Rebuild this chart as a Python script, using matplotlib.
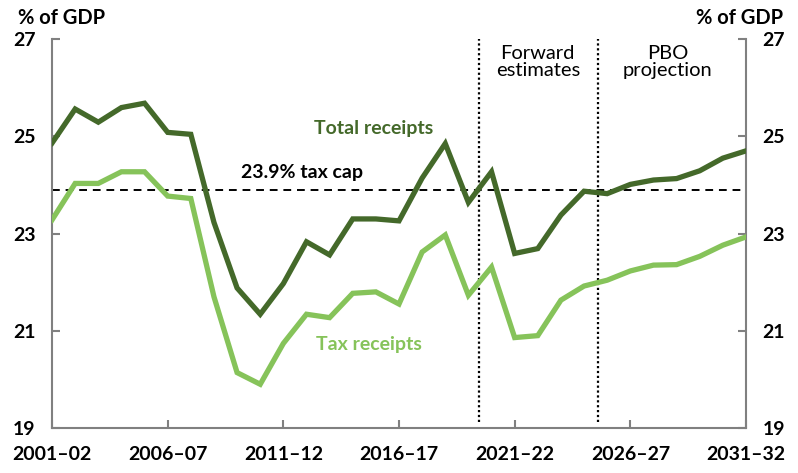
import numpy as np
import matplotlib.pyplot as plt

plt.rcParams['font.family'] = ['Lato', 'DejaVu Sans']

# data, % of GDP, 2001-02 .. 2031-32
years = [f"{y}\u2013{str(y + 1)[-2:]}" for y in range(2001, 2032)]
total = [24.86, 25.56, 25.29, 25.59, 25.68, 25.08, 25.04, 23.23, 21.88, 21.34,
         21.97, 22.83, 22.56, 23.30, 23.30, 23.26, 24.14, 24.85, 23.64, 24.27,
         22.59, 22.69, 23.38, 23.87, 23.82, 24.01, 24.10, 24.13, 24.29, 24.55,
         24.70]
tax = [23.28, 24.03, 24.03, 24.27, 24.27, 23.77, 23.72, 21.70, 20.14, 19.90,
       20.74, 21.34, 21.27, 21.77, 21.80, 21.55, 22.62, 22.97, 21.73, 22.31,
       20.86, 20.90, 21.63, 21.92, 22.04, 22.23, 22.35, 22.36, 22.53, 22.76,
       22.93]
tax_cap = 23.9
xtick_labels = ['2001\u201302', '2006\u201307', '2011\u201312', '2016\u201317',
                '2021\u201322', '2026\u201327', '2031\u201332']
yticks = [19, 21, 23, 25, 27]

dark = '#44692a'
light = '#86c35a'
grey = '#808080'

x = np.arange(len(years))

fig = plt.figure(figsize=(7.98, 4.73), dpi=100)
ax = fig.add_axes([0.0652, 0.0951, 0.8696, 0.8224])

ax.plot(x, total, color=dark, lw=3.8, solid_joinstyle='miter', zorder=3)
ax.plot(x, tax, color=light, lw=3.8, solid_joinstyle='miter', zorder=3)
ax.axhline(tax_cap, color='black', ls=(0, (4, 3)), lw=1.4, zorder=2)
for xv in [18.45, 23.6]:
    ax.plot([xv, xv], [19.12, 27], color='black', ls=(0, (1, 1.2)), lw=1.6, zorder=2)

ax.set_xlim(0, 30)
ax.set_ylim(19, 27)
ax.set_xticks(x[::5])
ax.set_xticklabels(xtick_labels)
ax.set_yticks(yticks)

for s in ['left', 'right', 'bottom']:
    ax.spines[s].set_color(grey)
    ax.spines[s].set_linewidth(1.5)
ax.spines['top'].set_visible(False)

ax.tick_params(axis='both', direction='in', length=6, width=1.5, color=grey,
               labelsize=14)
ax.tick_params(axis='y', left=True, right=True, labelleft=True, labelright=True, pad=12)
ax.tick_params(axis='x', pad=13)
for lab in ax.get_xticklabels() + ax.get_yticklabels():
    lab.set_fontweight('bold')
for t in ax.yaxis.get_major_ticks():
    t.label2.set_fontweight('bold')
    t.label2.set_fontsize(14)

fig.text(0.023, 0.962, '% of GDP', fontsize=14.5, fontweight='bold', va='center', ha='left')
fig.text(0.981, 0.962, '% of GDP', fontsize=14.5, fontweight='bold', va='center', ha='right')

ax.text(13.9, 25.17, 'Total receipts', color=dark, fontsize=14, fontweight='bold',
        ha='center', va='center')
ax.text(13.7, 20.72, 'Tax receipts', color=light, fontsize=14, fontweight='bold',
        ha='center', va='center')
ax.text(10.8, 24.25, '23.9% tax cap', color='black', fontsize=14, fontweight='bold',
        ha='center', va='center')
ax.text(21.0, 26.52, 'Forward\nestimates', fontsize=14.5, ha='center', va='center',
        linespacing=1.0)
ax.text(26.6, 26.52, 'PBO\nprojection', fontsize=14.5, ha='center', va='center',
        linespacing=1.0)

fig.savefig('out.png', dpi=100)
